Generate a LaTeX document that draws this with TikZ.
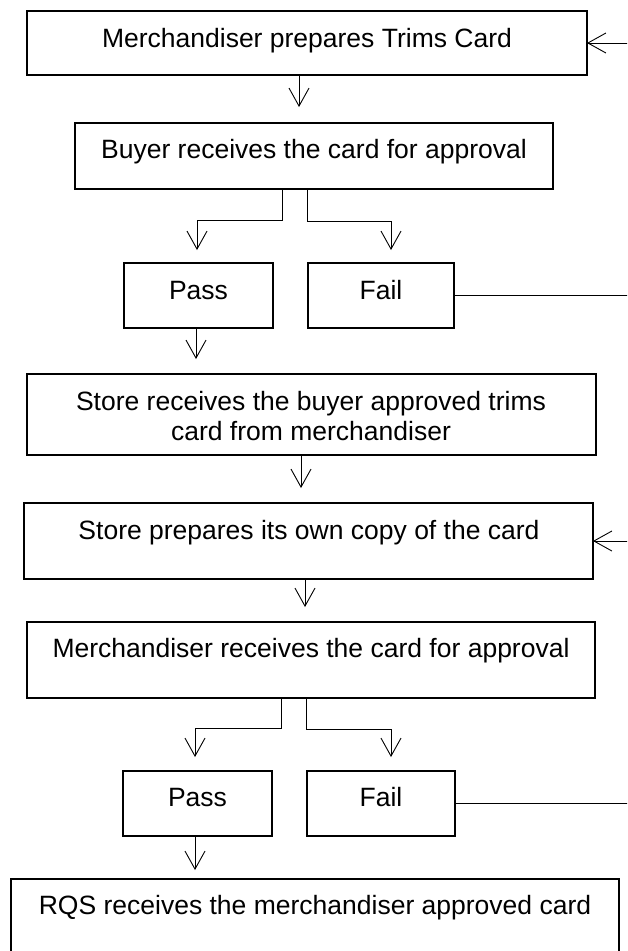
\documentclass[tikz,border=0pt]{standalone}
\usepackage{fontspec}
\setmainfont{Liberation Sans}
\usetikzlibrary{arrows.meta}
\tikzset{
  box/.style={draw, line width=1.5pt, anchor=north west, inner sep=0pt, outer sep=0pt},
  txt/.style={anchor=base, inner sep=0pt, font=\fontsize{26.5}{30}\selectfont},
  conn/.style={line width=0.9pt},
  arr/.style={conn, -{Straight Barb[length=18pt,width=20pt]}}
}
\begin{document}
\begin{tikzpicture}[x=1pt,y=-1pt]
\useasboundingbox (0,0) rectangle (627,951);
\clip (0,0) rectangle (627,951);
% boxes
\node[box, minimum width=560pt, minimum height=64pt] (b1) at (27,11) {};
\node[box, minimum width=478pt, minimum height=66pt] (b2) at (75,123) {};
\node[box, minimum width=149pt, minimum height=65pt] (p1) at (124,263) {};
\node[box, minimum width=146pt, minimum height=65pt] (f1) at (308,263) {};
\node[box, minimum width=569pt, minimum height=81pt] (b3) at (27,374) {};
\node[box, minimum width=569pt, minimum height=76pt] (b4) at (24,503) {};
\node[box, minimum width=568pt, minimum height=76pt] (b5) at (27,622) {};
\node[box, minimum width=149pt, minimum height=65pt] (p2) at (123,771) {};
\node[box, minimum width=148pt, minimum height=65pt] (f2) at (307,771) {};
\node[box, minimum width=608pt, minimum height=100pt] (b6) at (11,879) {};
% texts
\node[txt] (t1) at (307,47) {Merchandiser prepares Trims Card};
\node[txt] (t2) at (314,158) {Buyer receives the card for approval};
\node[txt] (tp1) at (198.5,299) {Pass};
\node[txt] (tf1) at (381,299) {Fail};
\node[txt] (t3a) at (311,410) {Store receives the buyer approved trims};
\node[txt] (t3b) at (311,440) {card from merchandiser};
\node[txt] (t4) at (309,539) {Store prepares its own copy of the card};
\node[txt] (t5) at (311,657) {Merchandiser receives the card for approval};
\node[txt] (tp2) at (197.5,806) {Pass};
\node[txt] (tf2) at (381,806) {Fail};
\node[txt] (t6) at (315,914) {RQS receives the merchandiser approved card};
% free ends on the right
\coordinate (r0) at (630,43);
\coordinate (r1) at (630,295.5);
\coordinate (r2) at (630,541);
\coordinate (r3) at (630,803.5);
% connectors
\draw[arr] (r0) -- (b1.east);
\draw[arr, shorten >=16pt] ([xshift=-8pt]b1.south) -- ([xshift=-15pt]b2.north);
\draw[arr, shorten >=13pt] ([xshift=-32pt]b2.south) -- ++(0,31) -| ([xshift=-1.5pt]p1.north);
\draw[arr, shorten >=13pt] ([xshift=-7pt]b2.south) -- ++(0,32) -| ([xshift=10pt]f1.north);
\draw[conn] (f1.east) -- (r1);
\draw[arr, shorten >=15pt] ([xshift=-2.5pt]p1.south) -- ([xshift=-115.5pt]b3.north);
\draw[arr, shorten >=15pt] ([xshift=-10.5pt]b3.south) -- ([xshift=-7.5pt]b4.north);
\draw[arr] (r2) -- (b4.east);
\draw[arr, shorten >=15pt] ([xshift=-3.5pt]b4.south) -- ([xshift=-6pt]b5.north);
\draw[arr, shorten >=14pt] ([xshift=-30pt]b5.south) -- ++(0,30) -| ([xshift=-2.5pt]p2.north);
\draw[arr, shorten >=14pt] ([xshift=-5pt]b5.south) -- ++(0,31) -| ([xshift=10pt]f2.north);
\draw[conn] (f2.east) -- (r3);
\draw[arr, shorten >=9pt] ([xshift=-2.5pt]p2.south) -- ([xshift=-120pt]b6.north);
\end{tikzpicture}
\end{document}
